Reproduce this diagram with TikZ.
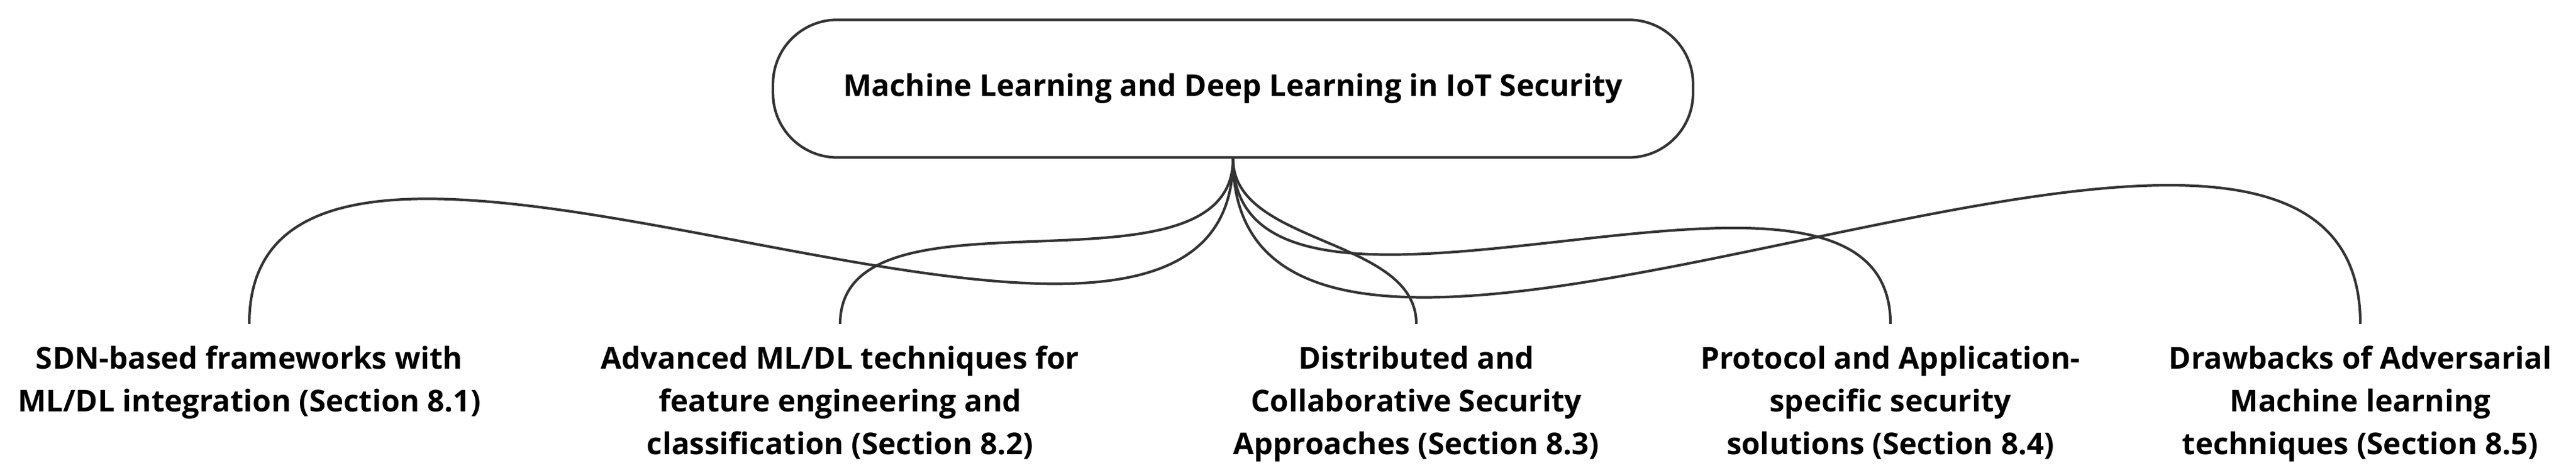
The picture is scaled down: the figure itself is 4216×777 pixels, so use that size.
\documentclass[tikz,border=0pt]{standalone}
\usepackage{fontspec}
\setmainfont{Open Sans}
\begin{document}
\begin{tikzpicture}[x=0.01cm,y=0.01cm,
  leaf/.style={align=center,font=\bfseries\fontsize{14}{19.9}\selectfont,anchor=north,inner sep=0pt},
  link/.style={draw=black!80,line width=1.2pt}]
\useasboundingbox (0,0) rectangle (4216,777);
\node[draw=black!80,line width=1.2pt,rounded corners=1.05cm,minimum width=15.05cm,minimum height=2.25cm,font=\bfseries\fontsize{14}{16}\selectfont] (top) at (2018,632) {Machine Learning and Deep Learning in IoT Security};
\node[leaf] (c1) at (408,212) {SDN-based frameworks with\\ML/DL integration (Section 8.1)};
\node[leaf] (c2) at (1375,212) {Advanced ML/DL techniques for\\feature engineering and\\classification (Section 8.2)};
\node[leaf] (c3) at (2318,212) {Distributed and\\Collaborative Security\\Approaches (Section 8.3)};
\node[leaf] (c4) at (3094,212) {Protocol and Application-\\specific security\\solutions (Section 8.4)};
\node[leaf] (c5) at (3863,212) {Drawbacks of Adversarial\\Machine learning\\techniques (Section 8.5)};
\foreach \c in {c1,c2,c3,c4,c5}
  \draw[link] (top.south) to[out=-90,in=90,looseness=0.9] ([yshift=10pt]\c.north);
\end{tikzpicture}
\end{document}
